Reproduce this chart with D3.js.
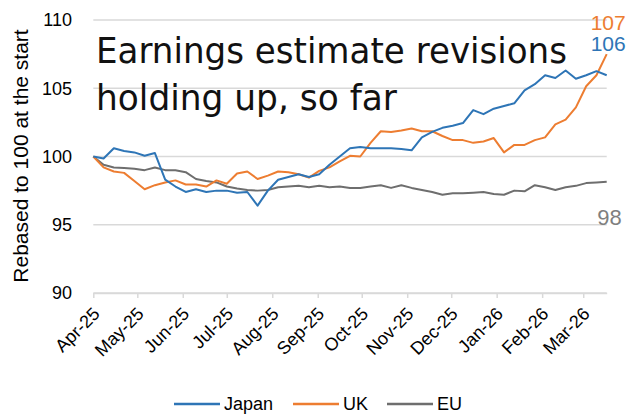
<!DOCTYPE html>
<html>
<head>
<meta charset="utf-8">
<script src="https://cdn.jsdelivr.net/npm/d3@7"></script>
<style>
  body { margin: 0; background: #fff; }
  svg { display: block; }
</style>
</head>
<body>
<svg id="chart"></svg>
<script>
// weekly observations, Apr-25 to Mar-26
const weeks = ["2025-04-01","2025-04-08","2025-04-15","2025-04-22","2025-04-29",
  "2025-05-06","2025-05-13","2025-05-20","2025-05-27",
  "2025-06-03","2025-06-10","2025-06-17","2025-06-24",
  "2025-07-01","2025-07-08","2025-07-15","2025-07-22","2025-07-29",
  "2025-08-05","2025-08-12","2025-08-19","2025-08-26",
  "2025-09-02","2025-09-09","2025-09-16","2025-09-23","2025-09-30",
  "2025-10-07","2025-10-14","2025-10-21","2025-10-28",
  "2025-11-04","2025-11-11","2025-11-18","2025-11-25",
  "2025-12-02","2025-12-09","2025-12-16","2025-12-23","2025-12-30",
  "2026-01-06","2026-01-13","2026-01-20","2026-01-27",
  "2026-02-03","2026-02-10","2026-02-17","2026-02-24",
  "2026-03-03","2026-03-10","2026-03-17"];

const japan = [100, 99.85, 100.6, 100.4, 100.3, 100.05, 100.25, 98.3, 97.8, 97.4,
  97.6, 97.4, 97.5, 97.5, 97.35, 97.4, 96.4, 97.5, 98.3, 98.5,
  98.7, 98.5, 98.7, 99.4, 100.0, 100.6, 100.7, 100.6, 100.6, 100.6,
  100.55, 100.45, 101.4, 101.8, 102.1, 102.25, 102.45, 103.4, 103.1, 103.5,
  103.7, 103.9, 104.85, 105.3, 105.95, 105.75, 106.3, 105.7, 105.95, 106.25, 105.95];

const uk = [100, 99.2, 98.9, 98.8, 98.2, 97.6, 97.9, 98.1, 98.25, 97.95,
  97.95, 97.8, 98.25, 98.0, 98.75, 98.9, 98.35, 98.6, 98.9, 98.85,
  98.7, 98.45, 98.95, 99.2, 99.65, 100.05, 100.0, 101.0, 101.85, 101.8,
  101.9, 102.05, 101.85, 101.85, 101.5, 101.2, 101.2, 101.0, 101.1, 101.35,
  100.3, 100.85, 100.85, 101.2, 101.4, 102.35, 102.7, 103.6, 105.15, 105.95, 107.5];

const eu = [100, 99.4, 99.2, 99.15, 99.1, 99.0, 99.2, 99.0, 99.0, 98.85,
  98.35, 98.2, 98.1, 97.8, 97.65, 97.55, 97.5, 97.55, 97.75, 97.8,
  97.85, 97.75, 97.85, 97.75, 97.8, 97.7, 97.7, 97.8, 97.9, 97.7,
  97.9, 97.7, 97.55, 97.4, 97.2, 97.3, 97.3, 97.35, 97.4, 97.25,
  97.2, 97.5, 97.45, 97.9, 97.75, 97.55, 97.75, 97.85, 98.05, 98.1, 98.15];

const yTicks = [90, 95, 100, 105, 110];
const seriesNames = ["Japan", "UK", "EU"];
const endLabels = ["106", "107", "98"];
const titleLines = ["Earnings estimate revisions", "holding up, so far"];

const colors = {Japan: "#2E75B6", UK: "#ED7D31", EU: "#6E6E6E"};
const W = 632, H = 415;
const font = "'Liberation Sans', Arial, sans-serif";

const parse = d3.timeParse("%Y-%m-%d");
const dates = weeks.map(parse);
const series = [
  {name: "Japan", values: japan},
  {name: "UK", values: uk},
  {name: "EU", values: eu}
];

const svg = d3.select("#chart").attr("width", W).attr("height", H);

const x = d3.scaleTime()
  .domain([dates[0], dates[dates.length - 1]])
  .range([93.3, 606.7]);
const y = d3.scaleLinear()
  .domain([90, 110])
  .range([293, 20]);

// gridlines
svg.append("g")
  .selectAll("line")
  .data(yTicks)
  .join("line")
  .attr("x1", x.range()[0])
  .attr("x2", x.range()[1])
  .attr("y1", d => y(d))
  .attr("y2", d => y(d))
  .attr("stroke", "#D9D9D9")
  .attr("stroke-width", 1.5);

// y tick labels
svg.append("g")
  .selectAll("text")
  .data(yTicks)
  .join("text")
  .attr("x", 72)
  .attr("y", d => y(d))
  .attr("dy", "0.36em")
  .attr("text-anchor", "end")
  .style("font-family", font)
  .style("font-size", "18px")
  .style("fill", "#000")
  .text(d => d);

// x axis
const xAxis = svg.append("g")
  .attr("transform", `translate(0,${y(90)})`)
  .call(d3.axisBottom(x)
    .ticks(d3.timeMonth.every(1))
    .tickFormat(d3.timeFormat("%b-%y"))
    .tickSizeInner(5)
    .tickSizeOuter(0));
xAxis.select(".domain").attr("stroke", "#D9D9D9").attr("stroke-width", 1.5);
xAxis.selectAll(".tick line").attr("stroke", "#D9D9D9").attr("stroke-width", 1.5);
xAxis.selectAll(".tick text")
  .attr("text-anchor", "end")
  .attr("x", 0)
  .attr("y", 0)
  .attr("dy", 0)
  .attr("transform", "translate(7,22) rotate(-45)")
  .style("font-family", font)
  .style("font-size", "18px")
  .style("fill", "#000");

// y axis title
svg.append("text")
  .attr("transform", "translate(28,156) rotate(-90)")
  .attr("text-anchor", "middle")
  .style("font-family", font)
  .style("font-size", "21px")
  .style("fill", "#000")
  .text("Rebased to 100 at the start");

// lines
const line = d3.line()
  .x((d, i) => x(dates[i]))
  .y(d => y(d));

svg.append("g")
  .selectAll("path")
  .data(series.slice().reverse())
  .join("path")
  .attr("d", d => line(d.values))
  .attr("fill", "none")
  .attr("stroke", d => colors[d.name])
  .attr("stroke-width", 2)
  .attr("stroke-linejoin", "round");

// end labels
const lastX = x(dates[dates.length - 1]);
svg.append("text")
  .attr("x", lastX + 19)
  .attr("y", y(uk[uk.length - 1]) - 24)
  .attr("text-anchor", "end")
  .style("font-family", font)
  .style("font-size", "21px")
  .style("fill", colors.UK)
  .text(endLabels[1]);
svg.append("text")
  .attr("x", lastX + 19)
  .attr("y", y(japan[japan.length - 1]) - 24)
  .attr("text-anchor", "end")
  .style("font-family", font)
  .style("font-size", "21px")
  .style("fill", colors.Japan)
  .text(endLabels[0]);
svg.append("text")
  .attr("x", lastX + 15)
  .attr("y", y(eu[eu.length - 1]) + 43)
  .attr("text-anchor", "end")
  .style("font-family", font)
  .style("font-size", "22px")
  .style("fill", "#7F7F7F")
  .text(endLabels[2]);

// title
svg.append("text")
  .attr("x", 96)
  .attr("y", 63)
  .attr("textLength", 471)
  .attr("lengthAdjust", "spacingAndGlyphs")
  .style("font-family", "'DejaVu Sans', sans-serif")
  .style("font-size", "36px")
  .style("fill", "#111")
  .text(titleLines[0]);
svg.append("text")
  .attr("x", 96)
  .attr("y", 110)
  .attr("textLength", 301)
  .attr("lengthAdjust", "spacingAndGlyphs")
  .style("font-family", "'DejaVu Sans', sans-serif")
  .style("font-size", "36px")
  .style("fill", "#111")
  .text(titleLines[1]);

// legend
const legendX = [174, 293, 387];
const legend = svg.append("g")
  .selectAll("g")
  .data(seriesNames)
  .join("g")
  .attr("transform", (d, i) => `translate(${legendX[i]},404)`);
legend.append("line")
  .attr("x1", 0).attr("x2", 46)
  .attr("stroke", d => colors[d])
  .attr("stroke-width", 2.5);
legend.append("text")
  .attr("x", 50)
  .attr("dy", "0.36em")
  .style("font-family", font)
  .style("font-size", "18px")
  .style("fill", "#000")
  .text(d => d);
</script>
</body>
</html>
